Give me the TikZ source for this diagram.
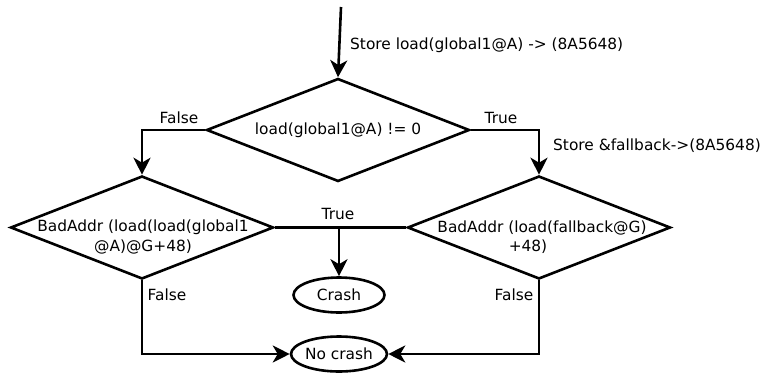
\documentclass[tikz,border=0pt]{standalone}
\usepackage{fontspec}
\setmainfont{DejaVu Sans}
\usetikzlibrary{shapes.geometric,arrows.meta}
\begin{document}
\begin{tikzpicture}[x=1pt,y=-1pt,
  txt/.style={font=\fontsize{15.4}{19.5}\selectfont, inner sep=0pt, align=center},
  dia/.style={diamond, draw, line width=2.6pt, inner sep=0pt, minimum width=263pt, minimum height=103pt},
  ell/.style={ellipse, draw, line width=2.6pt, inner sep=0pt, minimum width=91pt, minimum height=35pt, font=\fontsize{15.4}{18}\selectfont},
  arr/.style={line width=2.6pt, -{Stealth[length=17pt,width=17pt,inset=5pt]}},
  con/.style={line width=2.6pt}]
\useasboundingbox (0,0) rectangle (760,375);
\coordinate (start) at (341,7);
\node[dia] (d1) at (338,130) {};
\node[txt] (t1) at (d1.center) {load(global1@A) != 0};
\node[dia] (d2) at (142,227.5) {};
\node[txt] (t2) at (143,237) {BadAddr (load(load(global1\\@A)@G+48)};
\node[dia] (d3) at (539,227.5) {};
\node[txt] (t3) at (542,237) {BadAddr (load(fallback@G)\\+48)\hspace*{28pt}};
\node[ell] (crash) at (339,295) {Crash};
\node[ell] (nocrash) at (339,354) {No crash};
\coordinate (j) at (339,227.5);

\draw[arr] (start) -- (d1.north);
\draw[arr] (d1.west) -| (d2.north);
\draw[arr] (d1.east) -| (d3.north);
\draw[con] (d2.east) -- (d3.west);
\draw[arr] (j) -- (crash.north);
\draw[arr] (d2.south) |- (nocrash.west);
\draw[arr] (d3.south) |- (nocrash.east);

\node[txt, anchor=west] (l1) at (350,45) {Store load(global1@A) -> (8A5648)};
\node[txt] (l2) at (179,118) {False};
\node[txt] (l3) at (501,118) {True};
\node[txt, anchor=west] (l4) at (553,146) {Store \&fallback->(8A5648)};
\node[txt] (l5) at (338,214) {True};
\node[txt] (l6) at (167,295) {False};
\node[txt] (l7) at (514,295) {False};
\end{tikzpicture}
\end{document}
